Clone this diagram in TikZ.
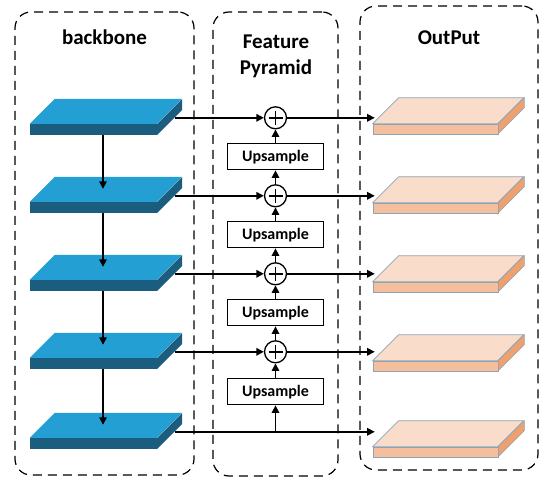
\documentclass[tikz,border=0pt]{standalone}
\usepackage{fontspec}
\setmainfont{Carlito}
\usepackage{xcolor}
\usetikzlibrary{positioning, arrows.meta, calc}

\definecolor{bbtop}{HTML}{249FD4}
\definecolor{bbdark}{HTML}{1B5D7F}
\definecolor{outtop}{HTML}{FADCCA}
\definecolor{outfront}{HTML}{F5BE9C}
\definecolor{outside}{HTML}{EFA06F}
\definecolor{outedge}{HTML}{8DA4B5}

\begin{document}
\begin{tikzpicture}[
        x=1pt, y=-1pt, >={Triangle[length=7.5pt, width=7.5pt]},
        group/.style={draw, dash pattern=on 9pt off 6pt, line width=1.2pt, rounded corners=16pt, inner sep=0pt},
        title/.style={font=\fontsize{21}{26}\selectfont\bfseries, align=center, anchor=base},
        bbfront/.style={rectangle, fill=bbdark, inner sep=0pt, minimum width=127pt, minimum height=11pt},
        outfront/.style={rectangle, fill=outfront, draw=outedge, line width=0.6pt, inner sep=0pt, minimum width=125pt, minimum height=10pt},
        upbox/.style={rectangle, draw, line width=1.2pt, inner sep=0pt, minimum width=96pt, minimum height=26pt, font=\fontsize{16}{18}\selectfont\bfseries},
        sumnode/.style={circle, draw, fill=white, line width=1.3pt, inner sep=0pt, minimum size=22pt,
            path picture={\draw[line width=1.8pt] ([xshift=-7pt]path picture bounding box.center) -- ([xshift=7pt]path picture bounding box.center);
                \draw[line width=1.8pt] ([yshift=-7pt]path picture bounding box.center) -- ([yshift=7pt]path picture bounding box.center);}},
        arrow/.style={->, line width=1.5pt},
    ]
    \useasboundingbox (0,0) rectangle (550,485);
    \node[group, minimum width=179pt, minimum height=463pt] (bb) at (104.5,243.5) {};
    \node[group, minimum width=125pt, minimum height=464pt] (fp) at (275.5,244) {};
    \node[group, minimum width=178pt, minimum height=464pt] (out) at (449,238) {};
    \node[title] (bbtitle) at (104.5,44) {backbone};
    \node[title] (fptitle) at (276,74) {Feature\\Pyramid};
    \node[title] (outtitle) at (449,44) {OutPut};
    \foreach \i/\y/\yo in {1/129.5/129, 2/207.5/208, 3/285.5/287, 4/363.5/366, 5/443.5/452} {
        \node[bbfront] (b\i) at (93.5,\y) {};
        \fill[bbtop] (b\i.north west) -- ++(25,-25) -- ++(127,0) -- ++(-25,25) -- cycle;
        \fill[bbdark] (b\i.north east) -- ++(25,-25) -- ++(0,11) -- ++(-25,25) -- cycle;
        \coordinate (r\i) at ([xshift=18pt, yshift=6pt]b\i.north east);
        \node[outfront] (o\i) at (435.5,\yo) {};
        \filldraw[fill=outtop, draw=outedge, line width=0.6pt] (o\i.north west) -- ++(26,-26) -- ++(125,0) -- ++(-26,26) -- cycle;
        \filldraw[fill=outside, draw=outedge, line width=0.6pt] (o\i.north east) -- ++(26,-26) -- ++(0,10) -- ++(-26,26) -- cycle;
    }
    \foreach \i in {1,...,4} {
        \node[sumnode] (s\i) at (r\i -| fp) {};
        \draw[arrow] (r\i) -- (s\i);
        \draw[arrow] (s\i) -- ([xshift=2pt]s\i -| o\i.west);
    }
    \coordinate (j5) at (r5 -| fp);
    \draw[arrow] (r5) -- ([xshift=2pt]r5 -| o5.west);
    \foreach \i/\nxt in {1/s2, 2/s3, 3/s4, 4/j5} {
        \node[upbox] (u\i) at ($(s\i)!0.5!(\nxt)$) {Upsample};
        \draw[arrow] (\nxt) -- (u\i);
        \draw[arrow] (u\i) -- (s\i);
    }
    \foreach \i/\j in {1/2, 2/3, 3/4, 4/5}
        \draw[arrow] ([xshift=9.5pt]b\i.south) -- ([xshift=9.5pt, yshift=13pt]b\j.north);
\end{tikzpicture}
\end{document}
